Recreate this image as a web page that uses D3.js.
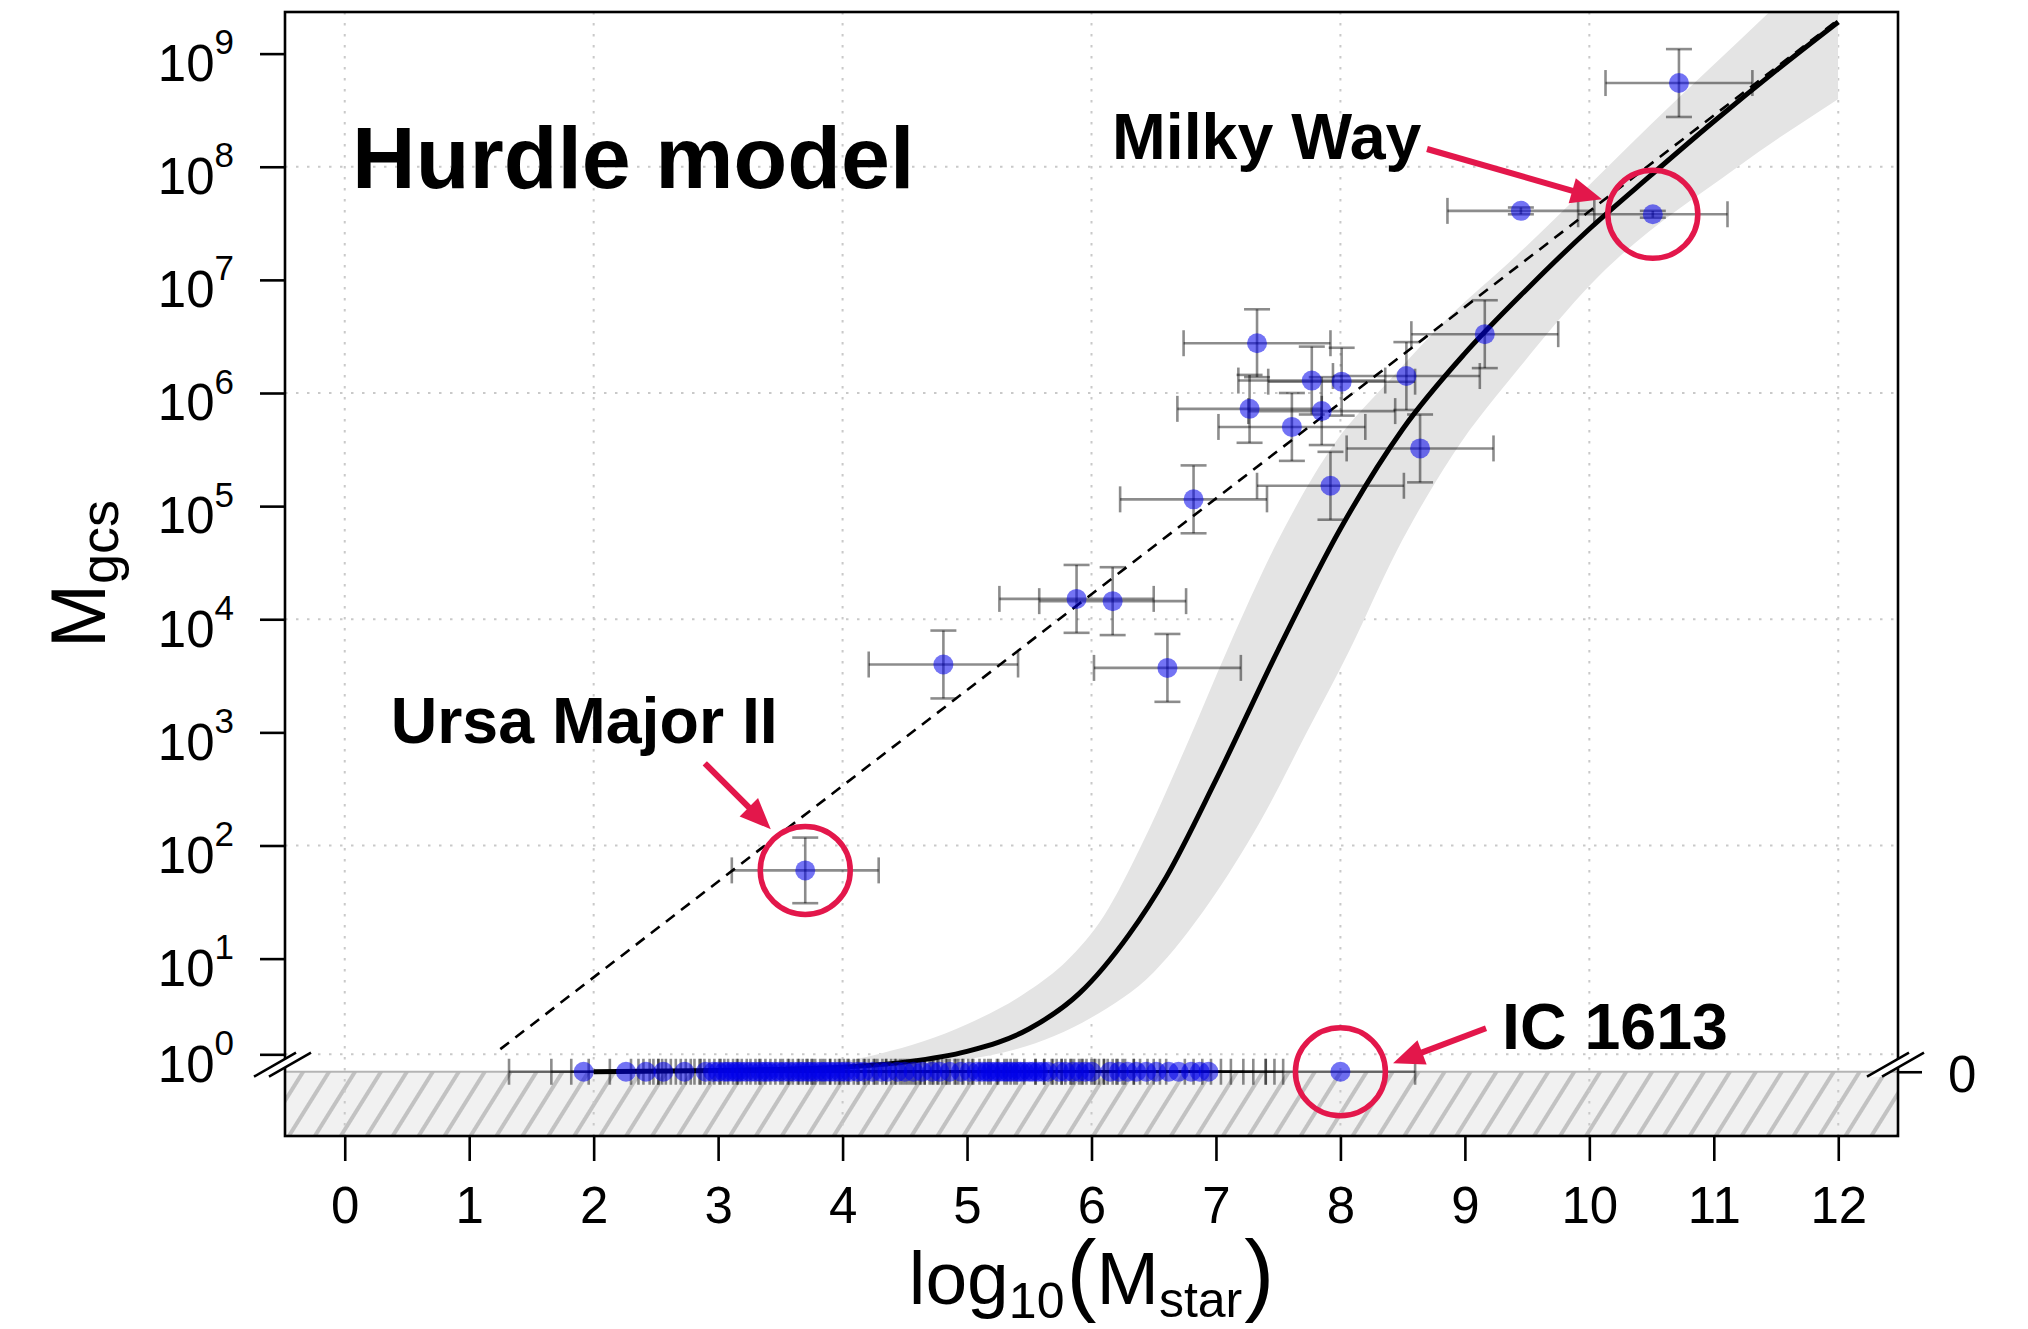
<!DOCTYPE html>
<html>
<head>
<meta charset="utf-8">
<script src="https://cdn.jsdelivr.net/npm/d3@7"></script>
<style>
  body { margin: 0; background: #ffffff; }
  svg { display: block; }
  text { font-family: "Liberation Sans", Arial, Helvetica, sans-serif; fill: #000; }
</style>
</head>
<body>
<svg id="chart" width="2028" height="1329"></svg>
<script>
// ---------- data (log10 units) ----------
const xTicks = [0, 1, 2, 3, 4, 5, 6, 7, 8, 9, 10, 11, 12];
const xGrid = [0, 2, 4, 6, 8, 10, 12];
const yTickExponents = [0, 1, 2, 3, 4, 5, 6, 7, 8, 9];
const yGrid = [0, 2, 4, 6, 8];

// galaxies with a detected GC system
const detLogMstar = [3.70, 4.81, 5.88, 6.17, 6.61, 6.82, 7.27, 7.33, 7.61, 7.77, 7.85, 7.92, 8.01, 8.53, 8.64, 9.16, 9.45, 10.51, 10.72];
const detLogMgcs  = [1.78, 3.60, 4.18, 4.16, 3.57, 5.06, 5.86, 6.44, 5.70, 6.11, 5.84, 5.18, 6.10, 6.15, 5.51, 6.52, 7.61, 7.58, 8.74];
const detErrMstar = [0.59, 0.60, 0.62, 0.59, 0.59, 0.59, 0.58, 0.59, 0.59, 0.59, 0.59, 0.59, 0.59, 0.59, 0.59, 0.59, 0.59, 0.60, 0.59];
const detErrMgcs  = [0.29, 0.30, 0.30, 0.30, 0.30, 0.30, 0.30, 0.30, 0.30, 0.30, 0.30, 0.30, 0.30, 0.30, 0.30, 0.30, 0.03, 0.03, 0.30];

// galaxies without GCs (plotted on the zero level)
const zeroLogMstar = [1.92, 2.26, 2.42, 2.56, 2.73, 2.90,
  2.96, 3.00, 3.05, 3.08, 3.12, 3.15, 3.18, 3.22, 3.26, 3.30, 3.34, 3.38, 3.41, 3.45, 3.49, 3.53,
  3.57, 3.61, 3.65, 3.68, 3.72, 3.75, 3.79, 3.83, 3.86, 3.90, 3.94, 3.98, 4.02, 4.06,
  4.12, 4.17, 4.24, 4.31, 4.36, 4.44, 4.50, 4.57, 4.64, 4.72, 4.78, 4.86, 4.95, 5.02,
  5.08, 5.12, 5.16, 5.19, 5.23, 5.26, 5.30, 5.33, 5.36, 5.40, 5.43, 5.46, 5.50, 5.53, 5.57, 5.61, 5.65,
  5.74, 5.79, 5.85, 5.90, 5.95, 6.00,
  6.15, 6.22, 6.29, 6.36, 6.44, 6.52, 6.62, 6.70, 6.80, 6.87, 6.94,
  8.00];
const zeroErrMstar = 0.6;

// hurdle model fit and its credible band
const fitLogMstar = [2.0, 3.0, 3.5, 4.0, 4.5, 5.0, 5.5, 5.9, 6.3, 6.6, 7.0, 7.5, 8.0, 8.5, 9.0, 9.5, 10.0, 10.5, 11.0, 11.5, 12.0];
const fitLogMgcs  = [0.0, 0.01, 0.02, 0.04, 0.085, 0.18, 0.38, 0.69, 1.21, 1.72, 2.58, 3.73, 4.80, 5.68, 6.35, 6.92, 7.45, 7.93, 8.40, 8.85, 9.28];
const bandUpperX = [2.0, 3.5, 4.3, 5.0, 5.5, 5.8, 6.1, 6.4, 6.75, 7.1, 7.5, 7.95, 8.4, 8.88, 9.4, 9.76, 10.5, 11.43, 12.0];
const bandUpperY = [0.0, 0.03, 0.16, 0.42, 0.72, 0.98, 1.38, 2.0, 2.85, 3.75, 4.7, 5.55, 6.12, 6.68, 7.2, 7.58, 8.38, 9.35, 9.95];
const bandLowerX = [2.0, 4.0, 4.5, 5.0, 5.4, 6.0, 6.5, 6.95, 7.35, 7.73, 8.07, 8.45, 8.9, 9.45, 10.02, 11.18, 12.0];
const bandLowerY = [0.0, 0.02, 0.05, 0.11, 0.2, 0.48, 0.88, 1.5, 2.2, 3.0, 3.72, 4.6, 5.45, 6.24, 6.97, 7.99, 8.60];

// linear relation for the detected systems
const lineLogMstar = [1.25, 12.0];
const lineLogMgcs  = [0.20, 9.30];

// highlighted galaxies
const highlightNames = ["Ursa Major II", "Milky Way", "IC 1613"];
const highlightX = [3.70, 10.51, 8.00];
const highlightY = [1.78, 7.58, 0.0];
const labelX = [0.369, 6.165, 9.299];
const labelY = [2.906, 8.068, 0.201];
const arrowFromX = [2.893, 8.696, 9.170];
const arrowFromY = [2.727, 8.157, 0.384];
const arrowToX = [3.423, 10.102, 8.423];
const arrowToY = [2.144, 7.712, 0.074];

// ---------- layout ----------
const plot = { left: 285, right: 1898, top: 12, bottom: 1136 };
const zeroLabelLift = 0.154;   // the 10^0 label sits just above the zero level
const svg = d3.select("#chart");
const x = d3.scaleLinear().domain([-0.48, 12.48]).range([plot.left, plot.right]);
const y = d3.scaleLinear().domain([-0.568, 9.368]).range([plot.bottom, plot.top]);
const y0 = y(0);
const red = "#e3174b";

const defs = svg.append("defs");
const hatch = defs.append("pattern")
  .attr("id", "hatch").attr("patternUnits", "userSpaceOnUse")
  .attr("width", 22).attr("height", 22)
  .attr("patternTransform", "rotate(-58)");
hatch.append("rect").attr("width", 22).attr("height", 22).attr("fill", "#f1f1f1");
hatch.append("line").attr("x1", -2).attr("x2", 24).attr("y1", 11).attr("y2", 11)
  .attr("stroke", "#c2c2c2").attr("stroke-width", 4);

defs.append("clipPath").attr("id", "plotClip").append("rect")
  .attr("x", plot.left).attr("y", plot.top)
  .attr("width", plot.right - plot.left).attr("height", plot.bottom - plot.top);
defs.append("clipPath").attr("id", "bandClip").append("rect")
  .attr("x", plot.left).attr("y", plot.top)
  .attr("width", x(12) - plot.left).attr("height", y0 - plot.top);

// zero-level hatched strip
svg.append("rect")
  .attr("x", plot.left).attr("y", y0)
  .attr("width", plot.right - plot.left).attr("height", plot.bottom - y0)
  .attr("fill", "url(#hatch)");

// dotted grid
const grid = svg.append("g").attr("fill", "none").attr("stroke", "#c9c9c9")
  .attr("stroke-width", 2).attr("stroke-dasharray", "2.5 8.5");
grid.selectAll("line.v").data(xGrid).join("line").attr("class", "v")
  .attr("x1", d => x(d)).attr("x2", d => x(d))
  .attr("y1", plot.top).attr("y2", plot.bottom);
grid.selectAll("line.h").data(yGrid).join("line").attr("class", "h")
  .attr("x1", plot.left).attr("x2", plot.right)
  .attr("y1", d => y(d === 0 ? d + zeroLabelLift : d))
  .attr("y2", d => y(d === 0 ? d + zeroLabelLift : d));

// credible band: upper edge left to right, lower edge back right to left
const edge = d3.line().x(d => x(d[0])).y(d => y(d[1])).curve(d3.curveMonotoneX);
const upperPts = bandUpperX.map((v, i) => [v, bandUpperY[i]]);
const lowerPts = bandLowerX.map((v, i) => [v, bandLowerY[i]]).reverse();
svg.append("path")
  .attr("clip-path", "url(#bandClip)")
  .attr("d", edge(upperPts) + "L" + edge(lowerPts).slice(1) + "Z")
  .attr("fill", "#e4e4e4");

// zero level line
svg.append("line")
  .attr("x1", plot.left).attr("x2", plot.right).attr("y1", y0).attr("y2", y0)
  .attr("stroke", "#b4b4b4").attr("stroke-width", 2);

// linear relation (dashed)
svg.append("path")
  .attr("d", d3.line().x(d => x(d[0])).y(d => y(d[1]))(lineLogMstar.map((v, i) => [v, lineLogMgcs[i]])))
  .attr("fill", "none").attr("stroke", "#000").attr("stroke-width", 2.6)
  .attr("stroke-dasharray", "11 8");

// hurdle model fit
svg.append("path")
  .attr("clip-path", "url(#plotClip)")
  .attr("d", edge(fitLogMstar.map((v, i) => [v, fitLogMgcs[i]])))
  .attr("fill", "none").attr("stroke", "#000").attr("stroke-width", 5);

// error bars
const cap = 13;
const bars = svg.append("g").attr("stroke", "rgba(0,0,0,0.45)").attr("stroke-width", 2.6).attr("fill", "none");
zeroLogMstar.forEach(v => {
  const xa = x(v - zeroErrMstar), xb = x(v + zeroErrMstar);
  bars.append("line").attr("x1", xa).attr("x2", xb).attr("y1", y0).attr("y2", y0);
  bars.append("line").attr("x1", xa).attr("x2", xa).attr("y1", y0 - cap).attr("y2", y0 + cap);
  bars.append("line").attr("x1", xb).attr("x2", xb).attr("y1", y0 - cap).attr("y2", y0 + cap);
});
detLogMstar.forEach((v, i) => {
  const cx = x(v), cy = y(detLogMgcs[i]);
  const xa = x(v - detErrMstar[i]), xb = x(v + detErrMstar[i]);
  const ya = y(detLogMgcs[i] + detErrMgcs[i]), yb = y(detLogMgcs[i] - detErrMgcs[i]);
  bars.append("line").attr("x1", xa).attr("x2", xb).attr("y1", cy).attr("y2", cy);
  bars.append("line").attr("x1", xa).attr("x2", xa).attr("y1", cy - cap).attr("y2", cy + cap);
  bars.append("line").attr("x1", xb).attr("x2", xb).attr("y1", cy - cap).attr("y2", cy + cap);
  bars.append("line").attr("x1", cx).attr("x2", cx).attr("y1", ya).attr("y2", yb);
  bars.append("line").attr("x1", cx - cap).attr("x2", cx + cap).attr("y1", ya).attr("y2", ya);
  bars.append("line").attr("x1", cx - cap).attr("x2", cx + cap).attr("y1", yb).attr("y2", yb);
});

// points
const dotFill = "rgba(0,0,235,0.55)";
svg.append("g").selectAll("circle").data(zeroLogMstar).join("circle")
  .attr("cx", d => x(d)).attr("cy", y0).attr("r", 10).attr("fill", dotFill);
svg.append("g").selectAll("circle").data(detLogMstar).join("circle")
  .attr("cx", d => x(d)).attr("cy", (d, i) => y(detLogMgcs[i])).attr("r", 10).attr("fill", dotFill);

// highlight rings
svg.append("g").selectAll("ellipse").data(highlightX).join("ellipse")
  .attr("cx", d => x(d)).attr("cy", (d, i) => y(highlightY[i]))
  .attr("rx", 45).attr("ry", 44)
  .attr("fill", "none").attr("stroke", red).attr("stroke-width", 5.5);

// arrows
const headLen = 31, headHalf = 13;
highlightNames.forEach((name, i) => {
  const x1 = x(arrowFromX[i]), y1 = y(arrowFromY[i]);
  const x2 = x(arrowToX[i]), y2 = y(arrowToY[i]);
  const ang = Math.atan2(y2 - y1, x2 - x1);
  const bx = x2 - headLen * Math.cos(ang), by = y2 - headLen * Math.sin(ang);
  svg.append("line").attr("x1", x1).attr("y1", y1)
    .attr("x2", bx + 4 * Math.cos(ang)).attr("y2", by + 4 * Math.sin(ang))
    .attr("stroke", red).attr("stroke-width", 6);
  const px = -Math.sin(ang) * headHalf, py = Math.cos(ang) * headHalf;
  svg.append("path")
    .attr("d", `M${x2},${y2}L${bx + px},${by + py}L${bx - px},${by - py}Z`)
    .attr("fill", red);
});

// annotation labels
svg.append("text").attr("x", x(0.059)).attr("y", y(7.81))
  .attr("font-size", 88).attr("font-weight", "bold").text("Hurdle model");
highlightNames.forEach((name, i) => {
  svg.append("text").attr("x", x(labelX[i])).attr("y", y(labelY[i]))
    .attr("font-size", 64.5).attr("font-weight", "bold").text(name);
});

// axis break marks
function breakMark(ax) {
  const a = y0 + 5, b = y0 - 19;
  svg.append("path")
    .attr("d", `M${ax - 31},${a}L${ax + 11},${b}L${ax + 26},${b}L${ax - 16},${a}Z`)
    .attr("fill", "#fff");
  svg.append("line").attr("x1", ax - 31).attr("y1", a).attr("x2", ax + 11).attr("y2", b)
    .attr("stroke", "#000").attr("stroke-width", 2.6);
  svg.append("line").attr("x1", ax - 16).attr("y1", a).attr("x2", ax + 26).attr("y2", b)
    .attr("stroke", "#000").attr("stroke-width", 2.6);
}

// plot frame
svg.append("rect")
  .attr("x", plot.left).attr("y", plot.top)
  .attr("width", plot.right - plot.left).attr("height", plot.bottom - plot.top)
  .attr("fill", "none").attr("stroke", "#000").attr("stroke-width", 2.6);
breakMark(plot.left);
breakMark(plot.right);

// bottom axis
const xAxis = svg.append("g").attr("transform", `translate(0,${plot.bottom})`)
  .call(d3.axisBottom(x).tickValues(xTicks).tickSize(25).tickPadding(26).tickFormat(d3.format("d")));
xAxis.select(".domain").remove();
xAxis.selectAll(".tick line").attr("stroke", "#000").attr("stroke-width", 2.6);
xAxis.selectAll(".tick text").attr("font-size", 51).attr("font-family", null).attr("fill", "#000");

// left axis: ticks from d3, labels as 10^k
const yAxis = svg.append("g").attr("transform", `translate(${plot.left},0)`)
  .call(d3.axisLeft(y).tickValues(yTickExponents.map(e => e === 0 ? e + zeroLabelLift : e))
    .tickSize(25).tickFormat(""));
yAxis.select(".domain").remove();
yAxis.selectAll(".tick line").attr("stroke", "#000").attr("stroke-width", 2.6);
yTickExponents.forEach(e => {
  const ty = y(e === 0 ? e + zeroLabelLift : e);
  const t = svg.append("text").attr("x", plot.left - 51).attr("y", ty + 27.3)
    .attr("text-anchor", "end").attr("font-size", 51).text("10");
  t.append("tspan").attr("font-size", 35).attr("dy", -26.7).text(e);
});

// right axis: zero level
const rAxis = svg.append("g").attr("transform", `translate(${plot.right},0)`)
  .call(d3.axisRight(y).tickValues([0]).tickSize(24).tickPadding(26).tickFormat(() => "0"));
rAxis.select(".domain").remove();
rAxis.selectAll(".tick line").attr("stroke", "#000").attr("stroke-width", 2.6);
rAxis.selectAll(".tick text").attr("font-size", 51).attr("font-family", null).attr("fill", "#000").attr("dy", "0.39em");

// axis titles
const xt = svg.append("text").attr("x", (plot.left + plot.right) / 2).attr("y", 1304)
  .attr("text-anchor", "middle").attr("font-size", 75).text("log");
xt.append("tspan").attr("font-size", 50).attr("dy", 14).text("10");
xt.append("tspan").attr("font-size", 90).attr("dy", -14).attr("dx", 2).text("(");
xt.append("tspan").attr("font-size", 75).text("M");
xt.append("tspan").attr("font-size", 50).attr("dy", 13).text("star");
xt.append("tspan").attr("font-size", 90).attr("dy", -13).attr("dx", 2).text(")");

const yt = svg.append("text")
  .attr("transform", `translate(105,${(plot.top + plot.bottom) / 2}) rotate(-90)`)
  .attr("text-anchor", "middle").attr("font-size", 77).text("M");
yt.append("tspan").attr("font-size", 54).attr("dy", 13).text("gcs");
</script>
</body>
</html>
